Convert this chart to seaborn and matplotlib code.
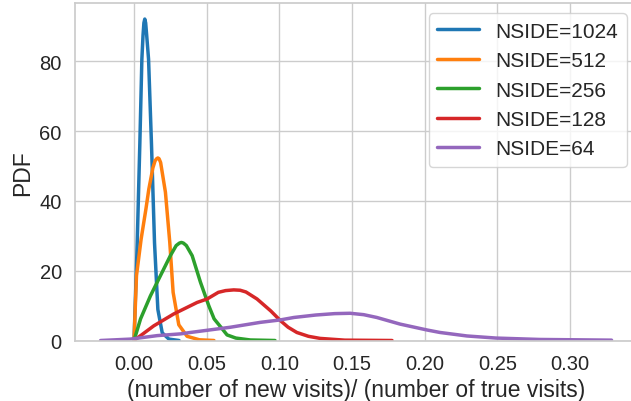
import pandas as pd
import matplotlib
matplotlib.use("Agg")
import matplotlib.pyplot as plt
import seaborn as sns

sns.set_theme(style="whitegrid")
plt.rcParams["font.family"] = ["Liberation Sans", "DejaVu Sans"]

# curves (x = new/true visit ratio, y = PDF)
x_1024 = [0.0, 0.0022, 0.004, 0.0054, 0.0062, 0.0068, 0.0074, 0.008, 0.0087, 0.010, 0.012, 0.0141, 0.0164, 0.0194, 0.024, 0.031]
y_1024 = [0.0, 28.0, 56.4, 80.6, 87.5, 91.0, 92.1, 91.0, 87.5, 80.6, 56.4, 28.0, 8.9, 2.2, 0.4, 0.0]

x_512 = [0.0, 0.0017, 0.0049, 0.0082, 0.0102, 0.013, 0.0145, 0.0156, 0.0164, 0.0172, 0.0183, 0.0216, 0.0246, 0.0269, 0.0308, 0.0365, 0.045, 0.055]
y_512 = [0.0, 18.6, 29.1, 37.7, 43.4, 49.5, 51.5, 52.1, 52.3, 52.1, 51.0, 42.5, 28.1, 13.8, 4.5, 1.2, 0.2, 0.0]

x_256 = [0.0, 0.0045, 0.0113, 0.0182, 0.025, 0.029, 0.0312, 0.0326, 0.034, 0.036, 0.040, 0.0457, 0.0514, 0.0551, 0.0594, 0.064, 0.070, 0.080, 0.097]
y_256 = [0.0, 6.2, 12.8, 18.6, 24.3, 27.2, 27.9, 28.1, 27.9, 27.2, 24.3, 16.7, 10.0, 6.2, 4.0, 1.6, 0.7, 0.15, 0.0]

x_128 = [0.0, 0.0136, 0.0273, 0.0434, 0.0503, 0.058, 0.063, 0.0686, 0.073, 0.077, 0.0846, 0.094, 0.1007, 0.106, 0.112, 0.12, 0.128, 0.145, 0.1775]
y_128 = [0.0, 4.2, 7.6, 10.9, 11.9, 13.8, 14.3, 14.5, 14.4, 13.9, 11.9, 8.5, 5.7, 3.8, 2.3, 1.2, 0.6, 0.1, 0.0]

x_64 = [-0.023, -0.0024, 0.016, 0.032, 0.0388, 0.0663, 0.0869, 0.1007, 0.110, 0.125, 0.138, 0.1487, 0.158, 0.167, 0.183, 0.2017, 0.2105, 0.229, 0.249, 0.279, 0.3285]
y_64 = [0.0, 0.4, 1.4, 1.9, 2.3, 3.8, 5.2, 5.9, 6.6, 7.3, 7.7, 7.8, 7.4, 6.6, 4.7, 3.0, 2.3, 1.3, 0.7, 0.3, 0.1]

labels = ["NSIDE=1024", "NSIDE=512", "NSIDE=256", "NSIDE=128", "NSIDE=64"]
curves = [(x_1024, y_1024), (x_512, y_512), (x_256, y_256), (x_128, y_128), (x_64, y_64)]

frames = []
for lab, (xs, ys) in zip(labels, curves):
    frames.append(pd.DataFrame({"ratio": xs, "pdf": ys, "nside": lab}))
df = pd.concat(frames, ignore_index=True)

fig = plt.figure(figsize=(6.31, 4.02), dpi=100)
ax = fig.add_axes([75 / 631, 60.5 / 402, 562 / 631, 337.5 / 402])

sns.lineplot(data=df, x="ratio", y="pdf", hue="nside", hue_order=labels,
             palette="tab10", linewidth=2.5, ax=ax)

ax.set_xlim(-0.0406, 0.346)
ax.set_ylim(0, 96.7)
ax.set_xticks([0.0, 0.05, 0.10, 0.15, 0.20, 0.25, 0.30])
ax.set_xticklabels(["0.00", "0.05", "0.10", "0.15", "0.20", "0.25", "0.30"])
ax.set_yticks([0, 20, 40, 60, 80])
ax.tick_params(labelsize=14.5)
ax.set_xlabel("(number of new visits)/ (number of true visits)", fontsize=16.5)
ax.set_ylabel("PDF", fontsize=16.5)
ax.legend(loc="upper right", fontsize=15)

fig.savefig("out.png", dpi=100)
